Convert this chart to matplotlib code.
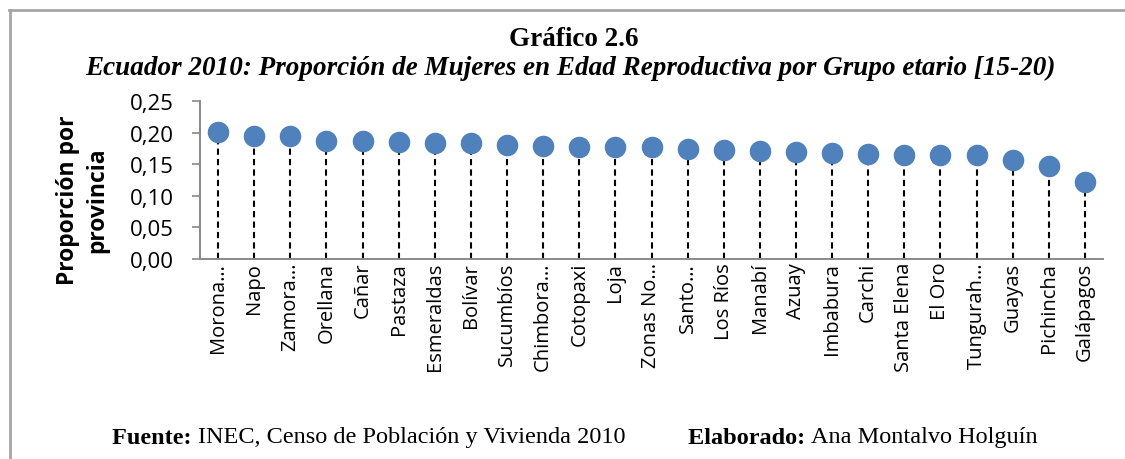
import matplotlib
matplotlib.use("Agg")
import matplotlib.pyplot as plt
from matplotlib.lines import Line2D
from matplotlib.ticker import MultipleLocator, FuncFormatter

provincias = ["Morona…", "Napo", "Zamora…", "Orellana", "Cañar", "Pastaza",
              "Esmeraldas", "Bolívar", "Sucumbíos", "Chimbora…", "Cotopaxi",
              "Loja", "Zonas No…", "Santo…", "Los Ríos", "Manabí", "Azuay",
              "Imbabura", "Carchi", "Santa Elena", "El Oro", "Tungurah…",
              "Guayas", "Pichincha", "Galápagos"]
proporcion = [0.201, 0.195, 0.195, 0.187, 0.186, 0.185, 0.184, 0.183, 0.181,
              0.179, 0.178, 0.178, 0.177, 0.174, 0.172, 0.171, 0.169, 0.168,
              0.166, 0.165, 0.164, 0.164, 0.156, 0.147, 0.122]

W, H = 1125, 460
fig = plt.figure(figsize=(W / 100, H / 100), dpi=100)
ax = fig.add_axes([200 / W, 1 - 260 / H, 903 / W, 158 / H])

x = list(range(len(provincias)))
ax.vlines(x, 0, proporcion, colors="black", linestyles=(0, (3, 2)), linewidth=1.5, zorder=2)
ax.plot(x, proporcion, "o", color="#4F81BD", markersize=14.5, markeredgecolor="#4F81BD", zorder=3)

ax.set_xlim(-0.5, len(provincias) - 0.5)
ax.set_ylim(0, 0.25)
ax.yaxis.set_major_locator(MultipleLocator(0.05))
ax.yaxis.set_major_formatter(FuncFormatter(lambda v, p: f"{v:.2f}".replace(".", ",")))
ax.set_xticks(x)
ax.set_xticklabels(provincias, rotation=90, fontsize=14.5, family="Open Sans")
ax.tick_params(axis="x", length=0, pad=2)
ax.tick_params(axis="y", length=6, width=1.2, color="#898989", labelsize=16, pad=13)
for lab in ax.get_yticklabels():
    lab.set_family("Open Sans")
for s in ["top", "right"]:
    ax.spines[s].set_visible(False)
for s in ["left", "bottom"]:
    ax.spines[s].set_color("#898989")
    ax.spines[s].set_linewidth(1.4)

fig.text(82.5 / W, 1 - 200 / H, "Proporción por\nprovincia", rotation=90, ha="center", va="center",
         fontsize=16.5, fontweight="bold", family="Open Sans", linespacing=1.3)

fig.text(574 / W, 1 - 40 / H, "Gráfico 2.6", ha="center", va="center", fontsize=19.5,
         fontweight="bold", family="Liberation Serif")
fig.text(570 / W, 1 - 68 / H, "Ecuador 2010: Proporción de Mujeres en Edad Reproductiva por Grupo etario [15-20)",
         ha="center", va="center", fontsize=19.5, fontweight="bold", style="italic",
         family="Liberation Serif")

# pie: parte en negrita seguida del texto normal
renderer = fig.canvas.get_renderer()
pie = [("Fuente:", "INEC, Censo de Población y Vivienda 2010", 112),
       ("Elaborado:", "Ana Montalvo Holguín", 688)]
for negrita, normal, x0 in pie:
    t = fig.text(x0 / W, 1 - 438 / H, negrita + " ", ha="left", va="center", fontsize=17.5,
                 fontweight="bold", family="Liberation Serif")
    bb = t.get_window_extent(renderer)
    fig.text(bb.x1 / W, 1 - 438 / H, normal, ha="left", va="center", fontsize=17.5,
             family="Liberation Serif")

# marco del gráfico
fig.add_artist(Line2D([9 / W, 1.0], [1 - 11 / H, 1 - 11 / H], color="#A6A6A6", linewidth=2))
fig.add_artist(Line2D([10 / W, 10 / W], [0.0, 1 - 11 / H], color="#A6A6A6", linewidth=2))

fig.savefig("out.png", dpi=100)
